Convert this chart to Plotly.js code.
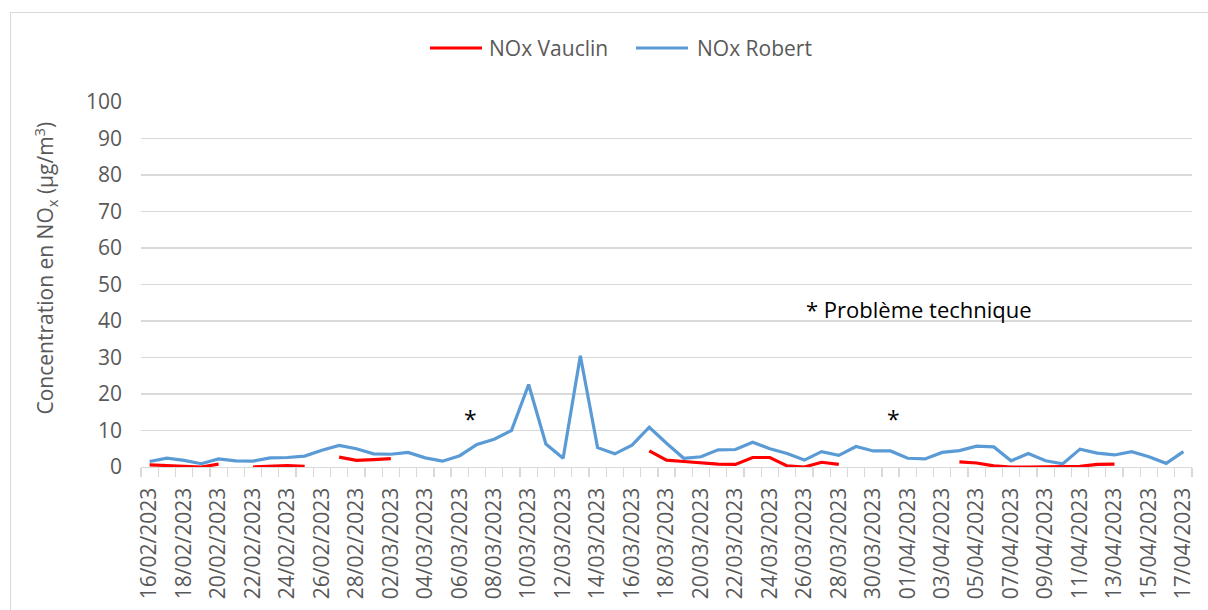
<!DOCTYPE html>
<html>
<head>
<meta charset="utf-8">
<script src="https://cdn.plot.ly/plotly-3.0.1.min.js"></script>
<style>
  html, body { margin: 0; padding: 0; width: 1208px; height: 610px; overflow: hidden; background: #fff; }
  #chart { width: 1208px; height: 610px; position: absolute; left: 0; top: 0; }
  #frame { position: absolute; left: 10px; top: 12px; width: 1400px; height: 800px; border: 1px solid #d9d9d9; pointer-events: none; }
</style>
</head>
<body>
<div id="chart"></div>
<div id="frame"></div>
<script>
// ---- Data ----
const dates = [
  "16/02/2023","17/02/2023","18/02/2023","19/02/2023","20/02/2023","21/02/2023","22/02/2023","23/02/2023",
  "24/02/2023","25/02/2023","26/02/2023","27/02/2023","28/02/2023","01/03/2023","02/03/2023","03/03/2023",
  "04/03/2023","05/03/2023","06/03/2023","07/03/2023","08/03/2023","09/03/2023","10/03/2023","11/03/2023",
  "12/03/2023","13/03/2023","14/03/2023","15/03/2023","16/03/2023","17/03/2023","18/03/2023","19/03/2023",
  "20/03/2023","21/03/2023","22/03/2023","23/03/2023","24/03/2023","25/03/2023","26/03/2023","27/03/2023",
  "28/03/2023","29/03/2023","30/03/2023","31/03/2023","01/04/2023","02/04/2023","03/04/2023","04/04/2023",
  "05/04/2023","06/04/2023","07/04/2023","08/04/2023","09/04/2023","10/04/2023","11/04/2023","12/04/2023",
  "13/04/2023","14/04/2023","15/04/2023","16/04/2023","17/04/2023"
];

const noxVauclin = [
  0.6, 0.4, 0.0, 0.0, 0.8, null, 0.0, 0.1, 0.4, 0.2, null, 2.7, 1.8, 2.0, 2.3, null,
  null, null, null, null, null, null, null, null, null, null, null, null, null, 4.4, 1.9, 1.5,
  1.1, 0.8, 0.7, 2.6, 2.6, 0.3, 0.0, 1.3, 0.7, null, null, null, null, null, null, 1.4,
  1.1, 0.3, 0.0, 0.0, 0.0, 0.0, 0.2, 0.7, 0.8, null, null, null, null
];

const noxRobert = [
  1.5, 2.4, 1.8, 0.9, 2.2, 1.7, 1.6, 2.5, 2.6, 3.0, 4.6, 5.9, 5.0, 3.6, 3.5, 4.0,
  2.5, 1.6, 3.1, 6.2, 7.6, 10.0, 22.6, 6.3, 2.4, 30.5, 5.3, 3.6, 6.0, 10.9, 6.5, 2.4,
  2.8, 4.7, 4.8, 6.8, 5.0, 3.7, 1.9, 4.2, 3.2, 5.6, 4.4, 4.4, 2.4, 2.2, 4.0, 4.5,
  5.7, 5.5, 1.7, 3.7, 1.7, 0.9, 4.9, 3.8, 3.3, 4.2, 2.8, 1.0, 4.2
];

const seriesNames = ["NOx Vauclin", "NOx Robert"];
const seriesColors = ["#FF0000", "#5B9BD5"];
const yTicks = [0, 10, 20, 30, 40, 50, 60, 70, 80, 90, 100];

// ---- Build ----
const idx = dates.map((d, i) => i);
const labelIdx = idx.filter(i => i % 2 === 0);
const labelText = labelIdx.map(i => dates[i]);

const FONT = "'Open Sans', 'Noto Sans', sans-serif";
const GREY = "#595959";

// plot area in pixels (for placing the legend swatches/labels in paper units)
const M = { l: 141, r: 16, t: 102, b: 143 };
const PW = 1208 - M.l - M.r, PH = 610 - M.t - M.b;
const px = v => (v - M.l) / PW;
const py = v => (610 - M.b - v) / PH;

const traces = [noxVauclin, noxRobert].map((vals, k) => ({
  x: idx, y: vals, name: seriesNames[k], type: "scatter", mode: "lines",
  connectgaps: false, showlegend: false,
  line: { color: seriesColors[k], width: 3.2 }
}));

// legend (drawn as swatch + label, Excel style)
const legendSpec = [
  { x0: 430, x1: 482, tx: 487 },
  { x0: 636, x1: 688, tx: 695 }
];
const legendY = 48;
const legendShapes = legendSpec.map((s, k) => ({
  type: "line", xref: "paper", yref: "paper",
  x0: px(s.x0), x1: px(s.x1), y0: py(legendY), y1: py(legendY),
  line: { color: seriesColors[k], width: 3.2 }
}));
const legendLabels = legendSpec.map((s, k) => ({
  xref: "paper", yref: "paper", x: px(s.tx), y: py(legendY),
  xanchor: "left", yanchor: "middle", showarrow: false,
  text: seriesNames[k],
  font: { family: FONT, size: 21, color: GREY }
}));

const layout = {
  width: 1208, height: 610,
  margin: { l: M.l, r: M.r, t: M.t, b: M.b, pad: 0 },
  paper_bgcolor: "rgba(0,0,0,0)",
  plot_bgcolor: "rgba(0,0,0,0)",
  font: { family: FONT, size: 21, color: GREY },
  showlegend: false,
  xaxis: {
    range: [-0.5, dates.length - 0.5],
    tickmode: "array",
    tickvals: labelIdx,
    ticktext: labelText,
    tickangle: -90,
    ticks: "",
    ticklabelstandoff: 11,
    tickfont: { family: FONT, size: 21, color: GREY },
    showgrid: false,
    zeroline: false,
    showline: true,
    linecolor: "#d9d9d9",
    linewidth: 1.3,
    minor: {
      tick0: -0.5, dtick: 1,
      ticks: "outside", ticklen: 9, tickcolor: "#d9d9d9", tickwidth: 1.3,
      showgrid: false
    },
    fixedrange: true
  },
  yaxis: {
    range: [0, 100],
    tickmode: "array",
    tickvals: yTicks,
    ticks: "",
    ticklabelstandoff: 18,
    tickfont: { family: FONT, size: 21, color: GREY },
    showgrid: true,
    gridcolor: "#d9d9d9",
    gridwidth: 1.3,
    zeroline: false,
    showline: false,
    fixedrange: true
  },
  shapes: legendShapes,
  annotations: legendLabels.concat([
    {
      xref: "paper", yref: "paper",
      x: px(45), y: py(268.5),
      xanchor: "center", yanchor: "middle",
      textangle: -90,
      text: "Concentration en NO<sub>x</sub> (µg/m<sup>3</sup>)",
      showarrow: false,
      font: { family: FONT, size: 21, color: GREY }
    },
    {
      xref: "x", yref: "y", x: 18.65, y: 13.2,
      text: "*", showarrow: false,
      font: { family: FONT, size: 23, color: "#000000" }
    },
    {
      xref: "x", yref: "y", x: 43.15, y: 13.2,
      text: "*", showarrow: false,
      font: { family: FONT, size: 23, color: "#000000" }
    },
    {
      xref: "x", yref: "y", x: 44.66, y: 43.4,
      text: "* Problème technique", showarrow: false,
      font: { family: FONT, size: 22, color: "#000000" }
    }
  ])
};

Plotly.newPlot("chart", traces, layout, { displayModeBar: false, staticPlot: true });
</script>
</body>
</html>
